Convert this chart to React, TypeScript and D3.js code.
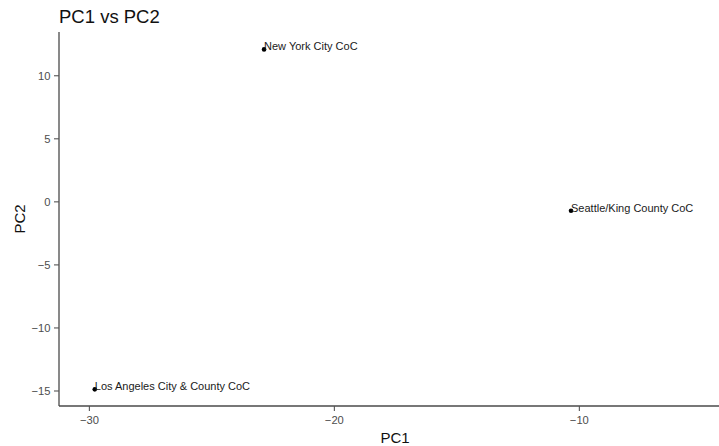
import React from "react";
import * as d3 from "d3";

// PCA scores for each Continuum of Care
const cocNames = ["New York City CoC", "Los Angeles City & County CoC", "Seattle/King County CoC"];
const pc1 = [-22.87, -29.78, -10.34];
const pc2 = [12.09, -14.87, -0.7];

const xTicks = [-30, -20, -10];
const yTicks = [-15, -10, -5, 0, 5, 10];

const W = 719;
const H = 446;
const left = 59;
const top = 32;
const bottom = 406;
const right = 731;

// d3's default formatter uses a true minus sign
const fmt = d3.format("d");

export default function App() {
  const x = d3.scaleLinear().domain([-31.24, -3.81]).range([left, right]);
  const y = d3.scaleLinear().domain([-16.19, 13.47]).range([bottom, top]);
  const font = "Arial, 'Liberation Sans', sans-serif";

  return (
    <svg
      width={W}
      height={H}
      style={{ position: "absolute", left: 0, top: 0, background: "#fff" }}
      fontFamily={font}
    >
      <text x={left} y={23} fontSize={18.5} fill="#111">
        PC1 vs PC2
      </text>

      {/* axes */}
      <line x1={left} x2={left} y1={top} y2={bottom} stroke="#4a4a4a" strokeWidth={1.3} />
      <line x1={left} x2={right} y1={bottom} y2={bottom} stroke="#4a4a4a" strokeWidth={1.3} />

      {yTicks.map((t) => (
        <g key={"y" + t}>
          <line x1={left - 5} x2={left} y1={y(t)} y2={y(t)} stroke="#555" strokeWidth={1.1} />
          <text x={left - 8.5} y={y(t)} dy="0.36em" textAnchor="end" fontSize={11.2} fill="#4d4d4d">
            {fmt(t)}
          </text>
        </g>
      ))}

      {xTicks.map((t) => (
        <g key={"x" + t}>
          <line x1={x(t)} x2={x(t)} y1={bottom} y2={bottom + 5} stroke="#555" strokeWidth={1.1} />
          <text x={x(t)} y={424} textAnchor="middle" fontSize={11.2} fill="#4d4d4d">
            {fmt(t)}
          </text>
        </g>
      ))}

      <text x={(left + right) / 2} y={443} textAnchor="middle" fontSize={15} fill="#111">
        PC1
      </text>
      <text
        transform={`translate(25,${(top + bottom) / 2}) rotate(-90)`}
        textAnchor="middle"
        fontSize={15}
        fill="#111"
      >
        PC2
      </text>

      {cocNames.map((name, i) => (
        <g key={name}>
          <circle cx={x(pc1[i])} cy={y(pc2[i])} r={2.3} fill="#000" />
          <text x={x(pc1[i])} y={y(pc2[i]) + 1} fontSize={11} fill="#1a1a1a">
            {name}
          </text>
        </g>
      ))}
    </svg>
  );
}
